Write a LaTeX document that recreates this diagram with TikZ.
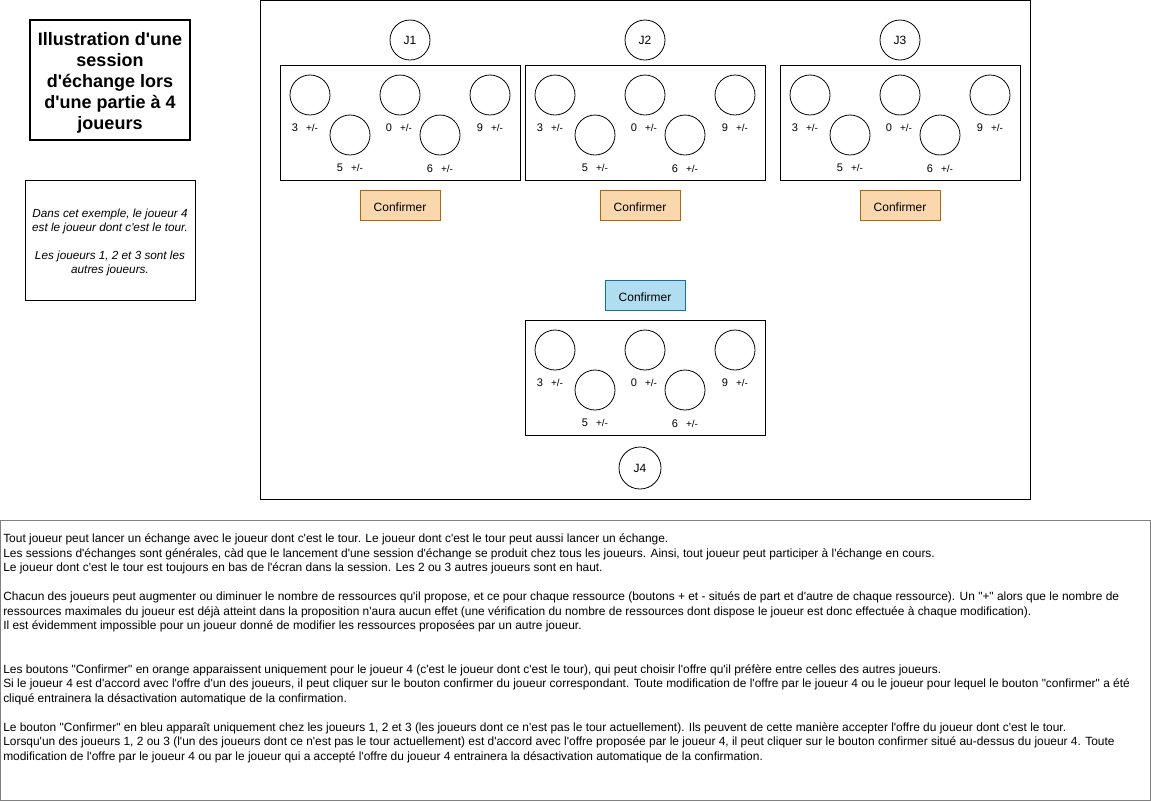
\documentclass[tikz,border=0pt]{standalone}
\usepackage{fontspec}
\setmainfont{Liberation Sans}[Ligatures=TeXOff]
\begin{document}
\begin{tikzpicture}[x=0.75pt,y=-0.75pt,
  frame/.style={draw=black, line width=0.75pt, inner sep=0pt},
  panel/.style={frame, minimum width=180pt, minimum height=86.25pt},
  res/.style={draw=black, line width=0.6pt, circle, inner sep=0pt, minimum size=30pt},
  player/.style={draw=black, line width=0.6pt, circle, inner sep=0pt, minimum size=30pt, font=\fontsize{9}{10}\selectfont},
  lbl/.style={inner sep=0pt, font=\fontsize{8.25}{9}\selectfont},
  confirmbtn/.style={frame, minimum width=60pt, minimum height=22.5pt, text height=9pt, text depth=0pt, font=\fontsize{9}{10}\selectfont},
  orangebtn/.style={confirmbtn, draw=orangeline, fill=orangefill},
  bluebtn/.style={confirmbtn, draw=blueline, fill=bluefill},
]
\definecolor{orangefill}{HTML}{FAD7AC}
\definecolor{orangeline}{HTML}{B46504}
\definecolor{bluefill}{HTML}{B1DDF0}
\definecolor{blueline}{HTML}{10739E}
\useasboundingbox (0,0) rectangle (1151,801);

% title and side note
\node[frame, line width=1.5pt, minimum width=120pt, minimum height=90pt] (title) at (110,80) {};
\node[inner sep=0pt, align=center, font=\fontsize{13.5}{15.75}\selectfont\bfseries] (titletext) at (110,83)
  {Illustration d'une\\session\\d'échange lors\\d'une partie à 4\\joueurs};
\node[frame, minimum width=127.5pt, minimum height=90pt] (note) at (110,240) {};
\node[inner sep=0pt, align=center, font=\fontsize{8.8}{10.5}\selectfont\itshape] (notetext) at (110,242.5)
  {Dans cet exemple, le joueur 4\\est le joueur dont c'est le tour.\\[10.5pt]Les joueurs 1, 2 et 3 sont les\\autres joueurs.};

% session window
\node[frame, minimum width=577.5pt, minimum height=374.5pt] (session) at (645,250.3) {};

% players
\node[player] (j1) at (410,40) {J1};
\node[player] (j2) at (645,40) {J2};
\node[player] (j3) at (900,40) {J3};
\node[player, minimum size=31.5pt] (j4) at (640,468) {J4};

% resource panels: one per player
\foreach \n/\px/\py in {1/280/65, 2/525/65, 3/780/65, 4/525/320}{
  \node[panel] (p\n) at ({\px+120},{\py+57.5}) {};
  \node[res] (p\n c1) at ({\px+30},{\py+30}) {};
  \node[res] (p\n c2) at ({\px+120},{\py+30}) {};
  \node[res] (p\n c3) at ({\px+210},{\py+30}) {};
  \node[res] (p\n c4) at ({\px+70},{\py+70}) {};
  \node[res] (p\n c5) at ({\px+160},{\py+70}) {};
  \node[lbl] (p\n l1) at ({\px+25},{\py+62.5}) {3\hspace{6pt}{\fontsize{7.5}{9}\selectfont+/-}};
  \node[lbl] (p\n l2) at ({\px+119},{\py+62.5}) {0\hspace{6pt}{\fontsize{7.5}{9}\selectfont+/-}};
  \node[lbl] (p\n l3) at ({\px+210},{\py+62.5}) {9\hspace{6pt}{\fontsize{7.5}{9}\selectfont+/-}};
  \node[lbl] (p\n l4) at ({\px+70},{\py+102.5}) {5\hspace{6pt}{\fontsize{7.5}{9}\selectfont+/-}};
  \node[lbl] (p\n l5) at ({\px+160},{\py+103.5}) {6\hspace{6pt}{\fontsize{7.5}{9}\selectfont+/-}};
}

% confirmation buttons
\node[orangebtn] (ok1) at (400,205) {Confirmer};
\node[orangebtn] (ok2) at (640,205) {Confirmer};
\node[orangebtn] (ok3) at (900,205) {Confirmer};
\node[bluebtn] (ok4) at (645,295) {Confirmer};

% explanations
\node[draw=black!50, line width=0.75pt, minimum width=862.5pt, minimum height=210pt, inner sep=0pt] (expl) at (575.5,660) {};
\node[anchor=north west, inner sep=0pt, align=left, font=\fontsize{8.95}{10.875}\selectfont] (expltext) at (3,533.5)
{Tout joueur peut lancer un échange avec le joueur dont c'est le tour. Le joueur dont c'est le tour peut aussi lancer un échange.\\
Les sessions d'échanges sont générales, càd que le lancement d'une session d'échange se produit chez tous les joueurs. Ainsi, tout joueur peut participer à l'échange en cours.\\
Le joueur dont c'est le tour est toujours en bas de l'écran dans la session. Les 2 ou 3 autres joueurs sont en haut.\\
\mbox{}\\
Chacun des joueurs peut augmenter ou diminuer le nombre de ressources qu'il propose, et ce pour chaque ressource (boutons + et - situés de part et d'autre de chaque ressource). Un "+" alors que le nombre de\\
ressources maximales du joueur est déjà atteint dans la proposition n'aura aucun effet (une vérification du nombre de ressources dont dispose le joueur est donc effectuée à chaque modification).\\
Il est évidemment impossible pour un joueur donné de modifier les ressources proposées par un autre joueur.\\
\mbox{}\\
\mbox{}\\
Les boutons "Confirmer" en orange apparaissent uniquement pour le joueur 4 (c'est le joueur dont c'est le tour), qui peut choisir l'offre qu'il préfère entre celles des autres joueurs.\\
Si le joueur 4 est d'accord avec l'offre d'un des joueurs, il peut cliquer sur le bouton confirmer du joueur correspondant. Toute modification de l'offre par le joueur 4 ou le joueur pour lequel le bouton "confirmer" a été\\
cliqué entrainera la désactivation automatique de la confirmation.\\
\mbox{}\\
Le bouton "Confirmer" en bleu apparaît uniquement chez les joueurs 1, 2 et 3 (les joueurs dont ce n'est pas le tour actuellement). Ils peuvent de cette manière accepter l'offre du joueur dont c'est le tour.\\
Lorsqu'un des joueurs 1, 2 ou 3 (l'un des joueurs dont ce n'est pas le tour actuellement) est d'accord avec l'offre proposée par le joueur 4, il peut cliquer sur le bouton confirmer situé au-dessus du joueur 4. Toute\\
modification de l'offre par le joueur 4 ou par le joueur qui a accepté l'offre du joueur 4 entrainera la désactivation automatique de la confirmation.};
\end{tikzpicture}
\end{document}
